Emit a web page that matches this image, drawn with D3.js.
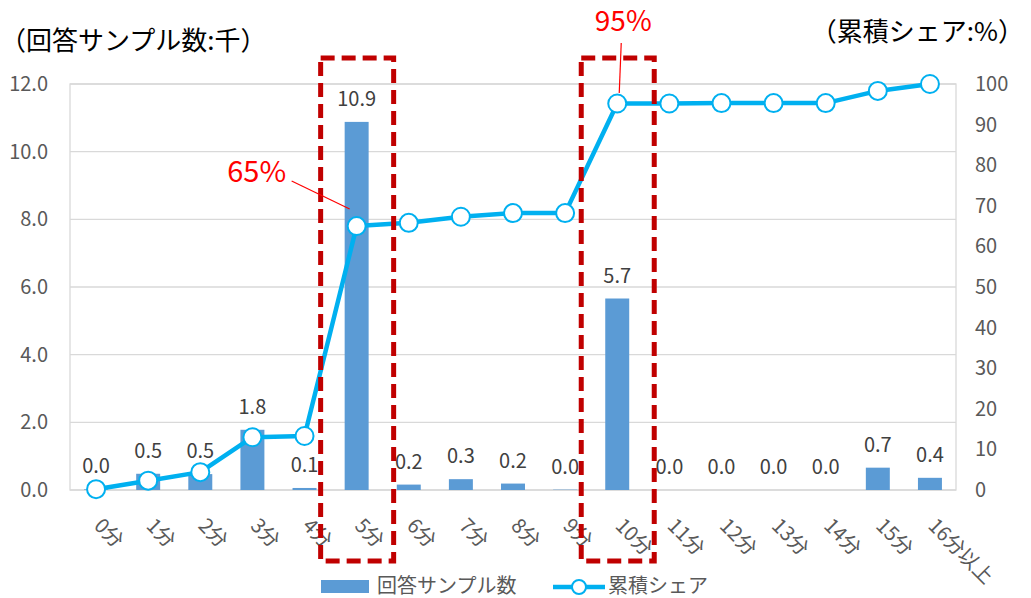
<!DOCTYPE html>
<html>
<head>
<meta charset="utf-8">
<title>回答サンプル数と累積シェア</title>
<style>
  body { margin: 0; padding: 0; background: #ffffff; }
  svg { display: block; font-family: "Noto Sans CJK JP", sans-serif; }
  .grid line { stroke: #d9d9d9; stroke-width: 1.3; }
  .tick-label { fill: #595959; font-size: 20px; }
  .bar-label { fill: #404040; font-size: 20px; text-anchor: middle; }
  .title { fill: #000000; font-size: 26px; }
  .legend text { fill: #595959; font-size: 20px; }
</style>
</head>
<body>
<div id="chart"></div>
<script src="https://d3js.org/d3.v7.min.js"></script>
<script>

// categories (minutes)
var minutes = ["0分", "1分", "2分", "3分", "4分", "5分", "6分", "7分", "8分", "9分",
               "10分", "11分", "12分", "13分", "14分", "15分", "16分以上"]

// response samples (thousands)
var samples = [0.02, 0.48, 0.47, 1.78, 0.06, 10.88, 0.16, 0.32, 0.19, 0.01,
               5.66, 0.0, 0.0, 0.0, 0.0, 0.66, 0.36]

// cumulative share (%)
var cumShare = [0.2, 2.3, 4.4, 13.0, 13.3, 65.0, 65.8, 67.3, 68.2, 68.2,
                95.2, 95.2, 95.3, 95.3, 95.3, 98.3, 100]

var leftTicks = [0, 2, 4, 6, 8, 10, 12]
var rightTicks = [0, 10, 20, 30, 40, 50, 60, 70, 80, 90, 100]

// highlighted categories with callouts
var highlights = ["5分", "10分"]
var callouts = [
  { cat: "5分", text: "65%" },
  { cat: "10分", text: "95%" }
]

var width = 1031, height = 598
var margin = { left: 70, right: 75, top: 84, bottom: 108 }
var plotW = width - margin.left - margin.right
var plotH = height - margin.top - margin.bottom

var svg = d3.select("#chart").append("svg")
  .attr("width", width)
  .attr("height", height)

var x = d3.scaleBand().domain(minutes).range([margin.left, margin.left + plotW]).paddingInner(0.54).paddingOuter(0.27)
var xc = function (d) { return x(d) + x.bandwidth() / 2 }
var y = d3.scaleLinear().domain([0, 12]).range([margin.top + plotH, margin.top])
var y2 = d3.scaleLinear().domain([0, 100]).range([margin.top + plotH, margin.top])

// gridlines
svg.append("g").attr("class", "grid")
  .selectAll("line").data(leftTicks).enter().append("line")
  .attr("x1", margin.left).attr("x2", margin.left + plotW)
  .attr("y1", function (d) { return y(d) }).attr("y2", function (d) { return y(d) })

// plot border
svg.append("rect")
  .attr("x", margin.left).attr("y", margin.top)
  .attr("width", plotW).attr("height", plotH)
  .attr("fill", "none").attr("stroke", "#d9d9d9").attr("stroke-width", 1.3)

// left axis labels
svg.append("g").selectAll("text").data(leftTicks).enter().append("text")
  .attr("class", "tick-label")
  .attr("x", 48).attr("y", function (d) { return y(d) + 7 })
  .attr("text-anchor", "end")
  .text(d3.format(".1f"))

// right axis labels
svg.append("g").selectAll("text").data(rightTicks).enter().append("text")
  .attr("class", "tick-label")
  .attr("x", 975).attr("y", function (d) { return y2(d) + 7 })
  .text(function (d) { return d })

// bars
svg.append("g").selectAll("rect").data(samples).enter().append("rect")
  .attr("x", function (d, i) { return x(minutes[i]) })
  .attr("y", function (d) { return y(d) })
  .attr("width", x.bandwidth())
  .attr("height", function (d) { return y(0) - y(d) })
  .attr("fill", "#5b9bd5")

// bar labels
svg.append("g").selectAll("text").data(samples).enter().append("text")
  .attr("class", "bar-label")
  .attr("x", function (d, i) { return xc(minutes[i]) })
  .attr("y", function (d) { return y(d) - 16 })
  .text(d3.format(".1f"))

// x labels, rotated
svg.append("g").selectAll("text").data(minutes).enter().append("text")
  .attr("class", "tick-label")
  .attr("transform", function (d) { return "translate(" + (xc(d) - 3) + "," + 527 + ") rotate(45)" })
  .text(function (d) { return d })

// cumulative share line
var line = d3.line()
  .x(function (d, i) { return xc(minutes[i]) })
  .y(function (d) { return y2(d) })

svg.append("path").datum(cumShare)
  .attr("d", line)
  .attr("fill", "none")
  .attr("stroke", "#00b0f0")
  .attr("stroke-width", 4.5)
  .attr("stroke-linejoin", "round")

svg.append("g").selectAll("circle").data(cumShare).enter().append("circle")
  .attr("cx", function (d, i) { return xc(minutes[i]) })
  .attr("cy", function (d) { return y2(d) })
  .attr("r", 9)
  .attr("fill", "#ffffff")
  .attr("stroke", "#00b0f0")
  .attr("stroke-width", 2)

// red dashed boxes
svg.append("g").selectAll("rect").data(highlights).enter().append("rect")
  .attr("x", function (d) { return xc(d) - 36 })
  .attr("y", 58)
  .attr("width", 73)
  .attr("height", 503)
  .attr("fill", "none")
  .attr("stroke", "#c00000")
  .attr("stroke-width", 5)
  .attr("stroke-dasharray", "14,7")

// callouts
var c65 = callouts[0], c95 = callouts[1]
svg.append("text").attr("x", xc(c65.cat) - 100).attr("y", 182)
  .attr("text-anchor", "middle").attr("fill", "#ff0000").attr("font-size", 29)
  .text(c65.text)
svg.append("line")
  .attr("x1", xc(c65.cat) - 65).attr("y1", 181)
  .attr("x2", xc(c65.cat) - 7).attr("y2", 209)
  .attr("stroke", "#ff0000").attr("stroke-width", 1.2)

svg.append("text").attr("x", xc(c95.cat) + 6).attr("y", 31)
  .attr("text-anchor", "middle").attr("fill", "#ff0000").attr("font-size", 28)
  .text(c95.text)
svg.append("line")
  .attr("x1", xc(c95.cat) + 4).attr("y1", 43)
  .attr("x2", xc(c95.cat) + 2).attr("y2", 93)
  .attr("stroke", "#ff0000").attr("stroke-width", 1.2)

// axis titles
svg.append("text").attr("class", "title").attr("x", 0).attr("y", 50)
  .text("（回答サンプル数:千）")
svg.append("text").attr("class", "title").attr("x", 1024).attr("y", 41)
  .attr("text-anchor", "end")
  .text("（累積シェア:%）")

// legend
var legend = svg.append("g").attr("class", "legend")
legend.append("rect").attr("x", 321).attr("y", 580).attr("width", 48).attr("height", 13).attr("fill", "#5b9bd5")
legend.append("text").attr("x", 377).attr("y", 593).text("回答サンプル数")
legend.append("line").attr("x1", 553).attr("x2", 605).attr("y1", 587).attr("y2", 587)
  .attr("stroke", "#00b0f0").attr("stroke-width", 4.5)
legend.append("circle").attr("cx", 579).attr("cy", 587).attr("r", 7)
  .attr("fill", "#ffffff").attr("stroke", "#00b0f0").attr("stroke-width", 2)
legend.append("text").attr("x", 608).attr("y", 593).text("累積シェア")

</script>
</body>
</html>
